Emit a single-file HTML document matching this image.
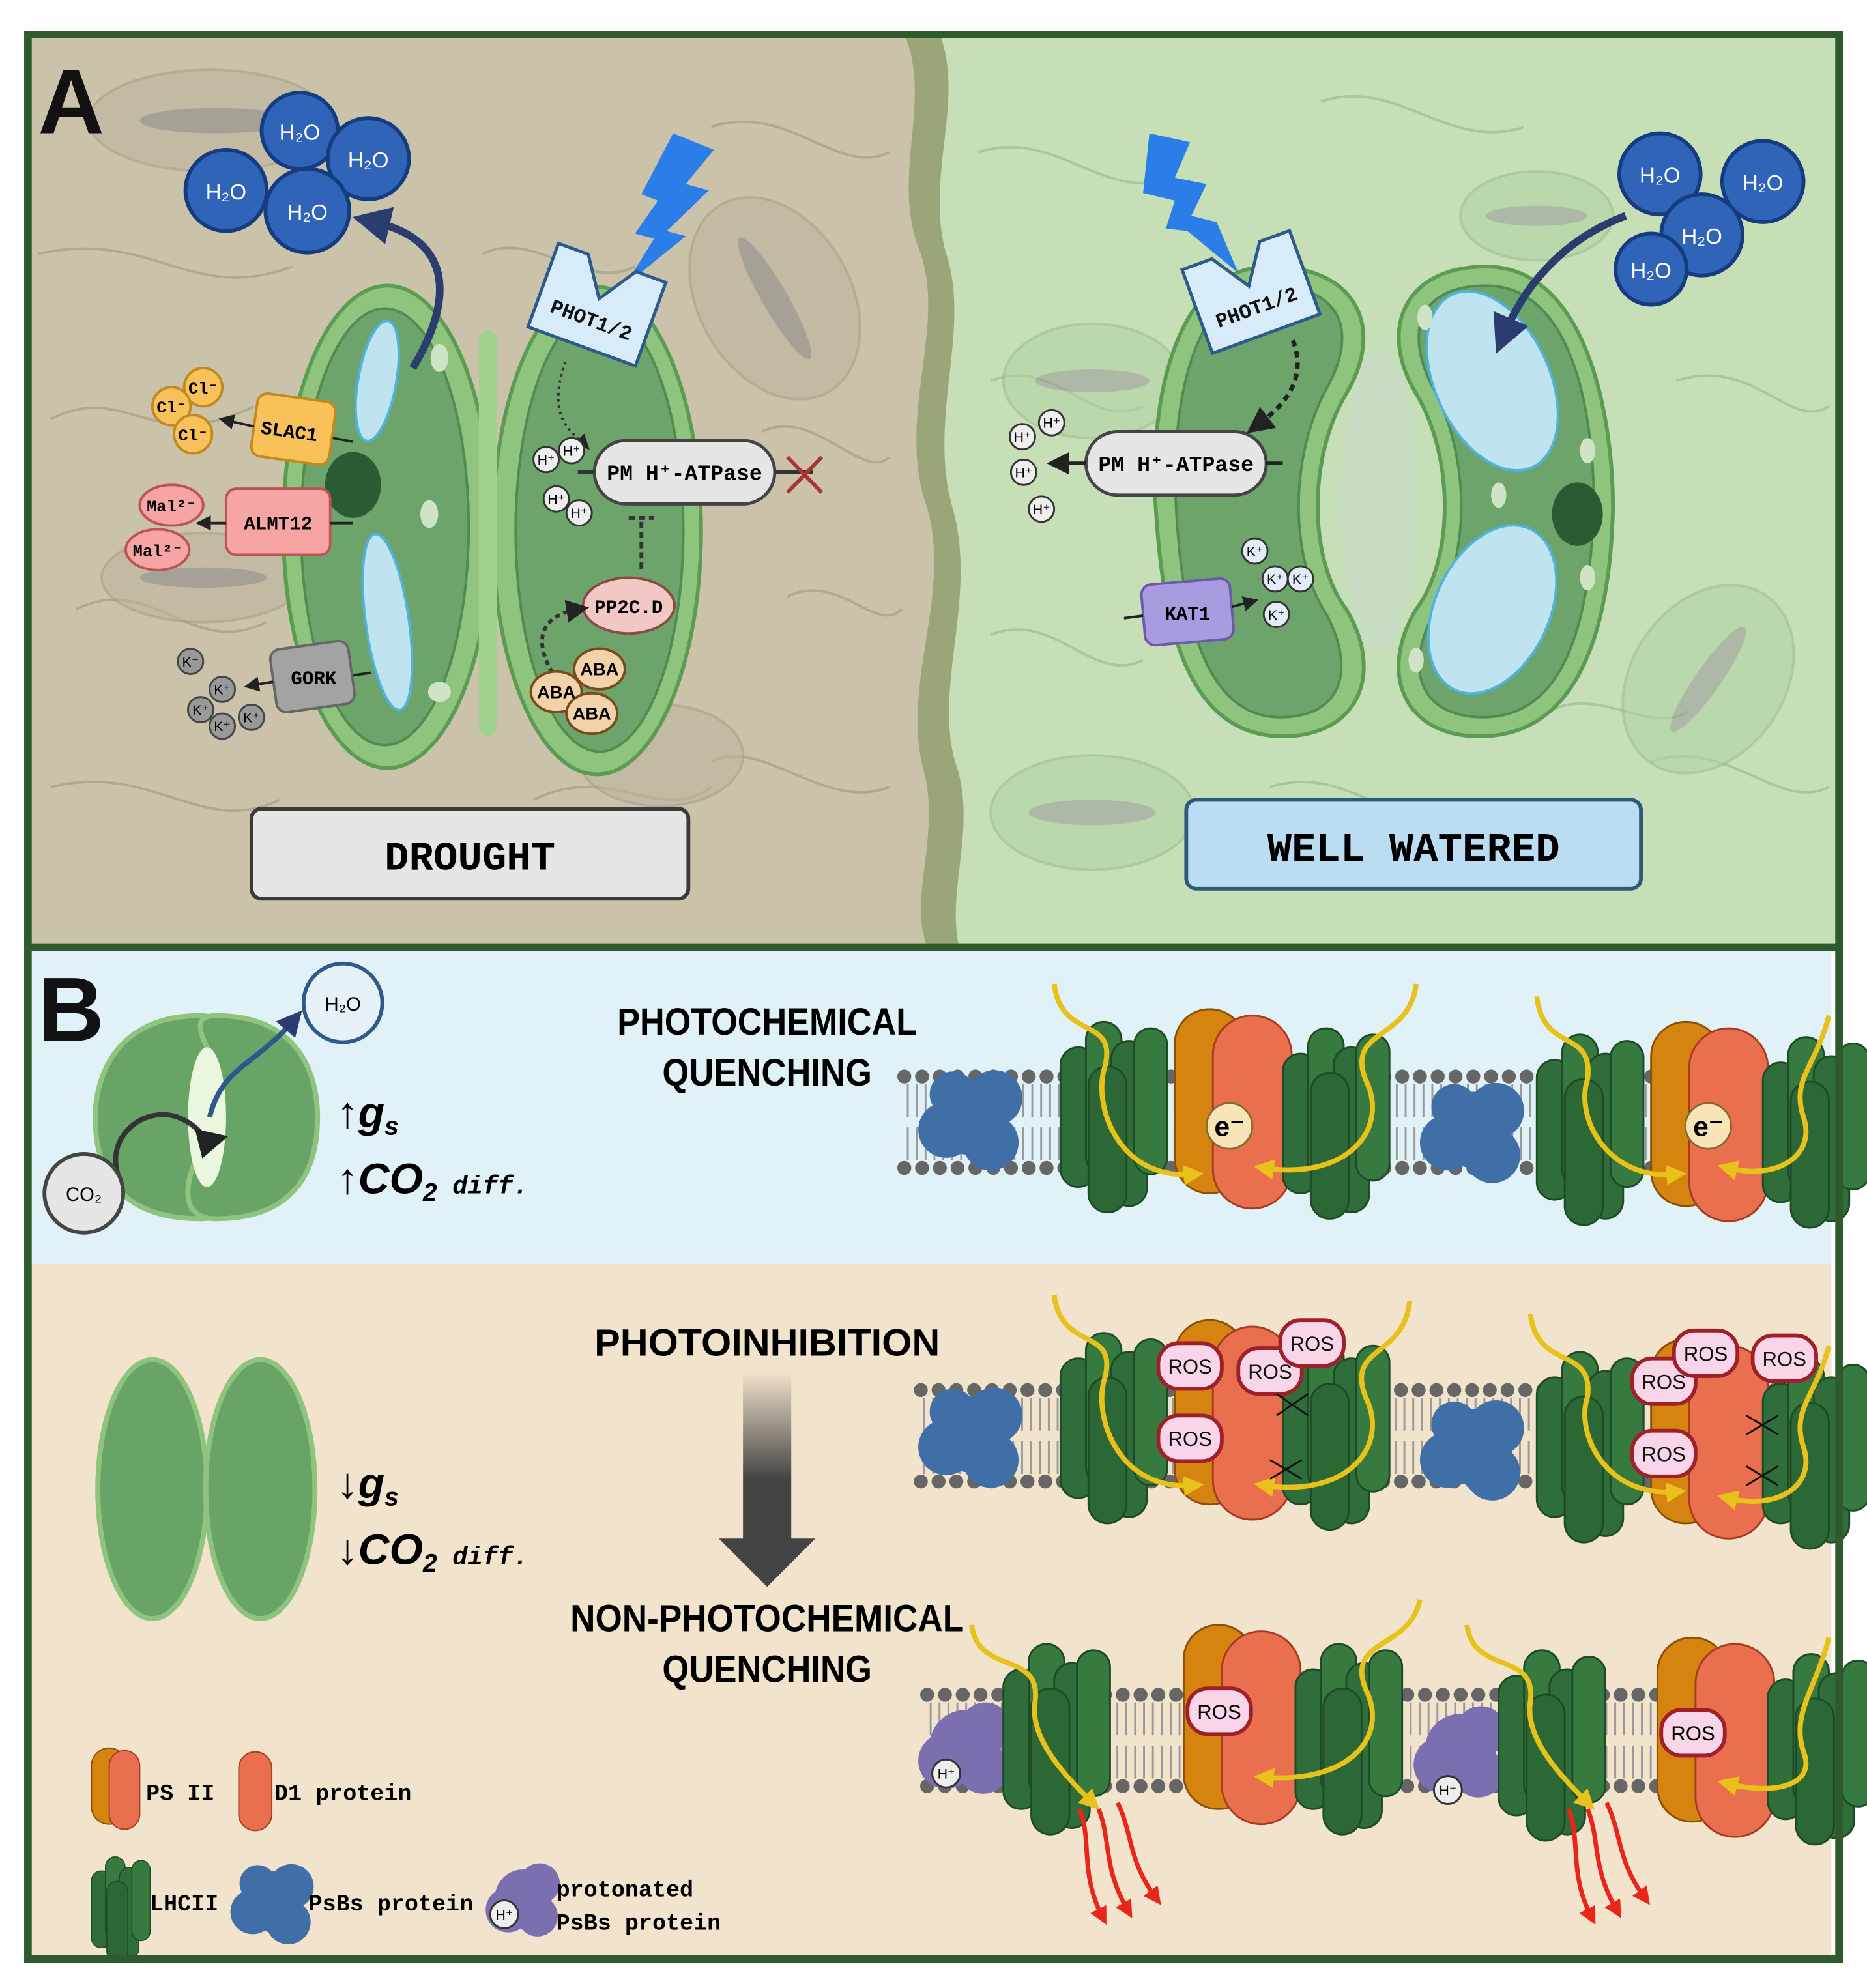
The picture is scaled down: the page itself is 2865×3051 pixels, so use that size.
<!DOCTYPE html>
<html><head><meta charset="utf-8"><style>
html,body{margin:0;padding:0;background:#fff;}
svg{display:block;}
text{font-family:"Liberation Sans",sans-serif;}
.m,.m text{font-family:"Liberation Mono",monospace;font-weight:bold;}
</style></head><body>
<svg width="2865" height="3051" viewBox="0 0 1470 1566" preserveAspectRatio="none" xmlns="http://www.w3.org/2000/svg">
<defs>
<g id="lhc">
 <rect x="0" y="25" width="28" height="110" rx="14" fill="#2f6e3a" stroke="#1e4a26" stroke-width="1.5"/>
 <rect x="20" y="5" width="28" height="120" rx="14" fill="#367a40" stroke="#1e4a26" stroke-width="1.5"/>
 <rect x="40" y="20" width="28" height="130" rx="14" fill="#2f6e3a" stroke="#1e4a26" stroke-width="1.5"/>
 <rect x="58" y="10" width="26" height="115" rx="13" fill="#367a40" stroke="#1e4a26" stroke-width="1.5"/>
 <rect x="22" y="40" width="30" height="115" rx="15" fill="#2c6836" stroke="#1e4a26" stroke-width="1.5"/>
</g>
<g id="ps2">
 <rect x="0" y="0" width="55" height="145" rx="27" fill="#d4840f" stroke="#8a4f08" stroke-width="1.5"/>
 <rect x="30" y="5" width="62" height="152" rx="31" fill="#e96f4e" stroke="#a53c22" stroke-width="1.5"/>
</g>
<g id="psbs">
 <circle cx="0" cy="0" r="30" fill="#3f6fa6"/><circle cx="-20" cy="10" r="22" fill="#3f6fa6"/><circle cx="18" cy="-15" r="22" fill="#3f6fa6"/><circle cx="15" cy="20" r="22" fill="#3f6fa6"/><circle cx="-15" cy="-18" r="18" fill="#3f6fa6"/>
</g>
<g id="ppsbs">
 <circle cx="0" cy="0" r="28" fill="#7b6fb0"/><circle cx="-15" cy="12" r="22" fill="#7b6fb0"/><circle cx="16" cy="-14" r="20" fill="#7b6fb0"/><circle cx="14" cy="18" r="20" fill="#7b6fb0"/>
</g>
<g id="mem">
 <line x1="0" y1="5" x2="730" y2="5" stroke="#666" stroke-width="11" stroke-linecap="round" stroke-dasharray="0 14"/>
 <line x1="0" y1="77" x2="730" y2="77" stroke="#666" stroke-width="11" stroke-linecap="round" stroke-dasharray="0 14"/>
 <line x1="0" y1="24" x2="730" y2="24" stroke="#999" stroke-width="26" stroke-dasharray="1.5 5.5" stroke-dashoffset="-2"/>
 <line x1="0" y1="58" x2="730" y2="58" stroke="#999" stroke-width="26" stroke-dasharray="1.5 5.5" stroke-dashoffset="-2"/>
</g>
<marker id="ah" markerWidth="6" markerHeight="6" refX="3" refY="3" orient="auto"><path d="M0,0 L6,3 L0,6z" fill="#222"/></marker>
<marker id="ahb" markerWidth="5" markerHeight="5" refX="2" refY="2.5" orient="auto"><path d="M0,0 L5,2.5 L0,5z" fill="#2b3d6e"/></marker>
<marker id="ahy" markerWidth="4" markerHeight="4" refX="2" refY="2" orient="auto"><path d="M0,0 L4,2 L0,4z" fill="#e8c21a"/></marker>
<marker id="ahr" markerWidth="4" markerHeight="4" refX="2" refY="2" orient="auto"><path d="M0,0 L4,2 L0,4z" fill="#e8261a"/></marker>
<linearGradient id="gr" x1="0" y1="0" x2="0" y2="1"><stop offset="0" stop-color="#444" stop-opacity="0"/><stop offset="0.5" stop-color="#444"/></linearGradient>
</defs>

<!-- Panel A backgrounds -->
<rect x="22" y="27" width="1426" height="718" fill="#cbc2aa"/>
<rect x="740" y="27" width="708" height="718" fill="#c6dfb6"/>
<path d="M712,27 C735,80 700,140 725,200 C745,260 705,330 730,400 C750,470 708,540 728,610 C740,660 715,710 730,745 L755,745 C745,700 770,650 752,600 C735,540 770,470 750,400 C730,330 765,260 745,200 C728,140 760,80 740,27z" fill="#9aa679"/>
<g fill="none" stroke="#b1a88f" stroke-width="2">
<path d="M30,200 C120,180 150,240 230,210 M40,330 C100,300 120,360 200,320 M60,480 C120,450 150,520 210,490 M40,620 C120,600 160,660 220,630 M560,100 C620,80 660,140 700,120 M560,600 C600,580 650,640 700,620 M380,200 C420,180 460,230 500,210 M420,630 C480,600 520,650 560,620 M600,340 C640,320 680,380 700,360 M620,470 C660,450 690,500 710,480"/>
</g>
<g fill="none" stroke="#a8c89a" stroke-width="2">
<path d="M770,120 C830,100 870,160 920,140 M1040,80 C1100,60 1140,120 1200,100 M780,300 C830,280 860,340 900,320 M1320,300 C1380,280 1410,340 1440,320 M780,500 C830,480 860,540 900,520 M1300,600 C1360,580 1400,640 1440,620 M1000,620 C1060,600 1100,660 1150,640 M1220,560 C1260,540 1300,580 1330,560"/>
</g>
<g opacity="0.55">
<ellipse cx="165" cy="95" rx="95" ry="40" fill="#bdb49d" stroke="#a59c84" stroke-width="2"/><ellipse cx="170" cy="95" rx="60" ry="10" fill="#888"/>
<ellipse cx="160" cy="455" rx="80" ry="35" fill="#bdb49d" stroke="#a59c84" stroke-width="2"/><ellipse cx="160" cy="455" rx="50" ry="8" fill="#888"/>
<ellipse cx="610" cy="235" rx="60" ry="85" fill="#bdb49d" stroke="#a59c84" stroke-width="2" transform="rotate(-30 610 235)"/><ellipse cx="610" cy="235" rx="10" ry="55" fill="#888" transform="rotate(-30 610 235)"/>
<ellipse cx="520" cy="595" rx="65" ry="40" fill="#bdb49d" stroke="#a59c84" stroke-width="2"/>
<ellipse cx="1210" cy="170" rx="60" ry="35" fill="#b2d1a5" stroke="#98b88a" stroke-width="2"/><ellipse cx="1210" cy="170" rx="40" ry="8" fill="#999"/>
<ellipse cx="860" cy="300" rx="70" ry="45" fill="#b2d1a5" stroke="#98b88a" stroke-width="2"/><ellipse cx="860" cy="300" rx="45" ry="9" fill="#999"/>
<ellipse cx="860" cy="640" rx="80" ry="45" fill="#b2d1a5" stroke="#98b88a" stroke-width="2"/><ellipse cx="860" cy="640" rx="50" ry="10" fill="#999"/>
<ellipse cx="1345" cy="535" rx="60" ry="80" fill="#b2d1a5" stroke="#98b88a" stroke-width="2" transform="rotate(35 1345 535)"/><ellipse cx="1345" cy="535" rx="10" ry="50" fill="#999" transform="rotate(35 1345 535)"/>
</g>

<!-- Drought stomata -->
<ellipse cx="305" cy="415" rx="82" ry="190" fill="#8fc47e" stroke="#5c9c52" stroke-width="3"/>
<ellipse cx="303" cy="415" rx="66" ry="172" fill="#6ca46b" stroke="#4f8c4f" stroke-width="2"/>
<ellipse cx="470" cy="418" rx="82" ry="192" fill="#8fc47e" stroke="#5c9c52" stroke-width="3"/>
<ellipse cx="472" cy="418" rx="66" ry="174" fill="#6ca46b" stroke="#4f8c4f" stroke-width="2"/>
<rect x="377" y="260" width="14" height="320" rx="7" fill="#a2d08f"/>
<ellipse cx="297" cy="300" rx="15" ry="48" fill="#bfe3ef" stroke="#4fb3e0" stroke-width="2" transform="rotate(10 297 300)"/>
<ellipse cx="305" cy="490" rx="17" ry="70" fill="#bfe3ef" stroke="#4fb3e0" stroke-width="2" transform="rotate(-8 305 490)"/>
<ellipse cx="278" cy="382" rx="22" ry="26" fill="#2a5b33"/>
<ellipse cx="346" cy="282" rx="7" ry="11" fill="#cfe3c5"/><ellipse cx="338" cy="405" rx="7" ry="11" fill="#cfe3c5"/><ellipse cx="346" cy="545" rx="9" ry="8" fill="#cfe3c5"/>
<path d="M325,290 C355,240 360,190 295,175" fill="none" stroke="#2b3d6e" stroke-width="6" marker-end="url(#ahb)"/>
<g fill="#2f64b8" stroke="#163c80" stroke-width="3">
<circle cx="236" cy="103" r="30"/><circle cx="290" cy="125" r="32"/><circle cx="178" cy="150" r="32"/><circle cx="242" cy="166" r="33"/>
</g>
<g fill="#fff" font-size="17" text-anchor="middle">
<text x="236" y="110">H₂O</text><text x="290" y="132">H₂O</text><text x="178" y="157">H₂O</text><text x="242" y="173">H₂O</text>
</g>
<!-- lightning left: top-right to bottom-left -->
<path d="M530,105 L562,118 L540,145 L558,150 L525,182 L540,186 L492,225 L515,188 L500,184 L518,158 L505,153z" fill="#2b7de8"/>
<g transform="rotate(20 470 240)"><path d="M425,205 L450,205 L470,235 L490,205 L515,205 L515,275 L425,275z" fill="#d8ebf8" stroke="#2d5a8a" stroke-width="2.5"/><text x="470" y="258" font-size="16" class="m" text-anchor="middle" fill="#111">PHOT1/2</text></g>
<path d="M445,285 C430,330 450,340 460,350" fill="none" stroke="#333" stroke-width="2" stroke-dasharray="2 3" marker-end="url(#ah)"/>
<rect x="468" y="347" width="142" height="50" rx="25" fill="#e6e6e6" stroke="#444" stroke-width="2.5"/>
<text x="539" y="378" font-size="17" class="m" text-anchor="middle">PM H⁺-ATPase</text>
<line x1="610" y1="372" x2="640" y2="372" stroke="#333" stroke-width="3"/>
<path d="M620,360 L647,388 M647,360 L620,388" stroke="#a33" stroke-width="3"/>
<line x1="468" y1="372" x2="455" y2="372" stroke="#333" stroke-width="3"/>
<g fill="#eee" stroke="#333" stroke-width="1.5"><circle cx="430" cy="362" r="10"/><circle cx="450" cy="355" r="10"/><circle cx="438" cy="393" r="10"/><circle cx="456" cy="404" r="10"/></g>
<g font-size="11" text-anchor="middle"><text x="430" y="366">H⁺</text><text x="450" y="359">H⁺</text><text x="438" y="397">H⁺</text><text x="456" y="408">H⁺</text></g>
<path d="M505,448 L505,408 M495,408 L515,408" stroke="#333" stroke-width="3" stroke-dasharray="5 3"/>
<ellipse cx="495" cy="477" rx="36" ry="22" fill="#f1c8c4" stroke="#8a4a45" stroke-width="2"/>
<text x="495" y="483" font-size="15" class="m" text-anchor="middle">PP2C.D</text>
<path d="M435,530 C420,505 425,485 455,480" fill="none" stroke="#333" stroke-width="3" stroke-dasharray="4 3" marker-end="url(#ah)"/>
<g fill="#f2d2aa" stroke="#7a4a1e" stroke-width="2"><ellipse cx="472" cy="527" rx="20" ry="16"/><ellipse cx="438" cy="545" rx="20" ry="16"/><ellipse cx="466" cy="562" rx="20" ry="16"/></g>
<g font-size="14" text-anchor="middle" font-weight="bold"><text x="472" y="532">ABA</text><text x="438" y="550">ABA</text><text x="466" y="567">ABA</text></g>
<rect x="200" y="313" width="62" height="50" rx="8" fill="#f8c15a" stroke="#c08a20" stroke-width="2" transform="rotate(8 231 338)"/>
<text x="228" y="345" font-size="15" class="m" text-anchor="middle" transform="rotate(8 231 338)">SLAC1</text>
<line x1="262" y1="345" x2="278" y2="348" stroke="#222" stroke-width="2"/>
<line x1="200" y1="336" x2="178" y2="331" stroke="#222" stroke-width="2" marker-end="url(#ah)"/>
<g fill="#f8c15a" stroke="#c08a20" stroke-width="2"><circle cx="160" cy="305" r="15"/><circle cx="135" cy="320" r="15"/><circle cx="152" cy="342" r="15"/></g>
<g font-size="13" class="m" text-anchor="middle"><text x="160" y="310">Cl⁻</text><text x="135" y="325">Cl⁻</text><text x="152" y="347">Cl⁻</text></g>
<rect x="178" y="385" width="82" height="52" rx="8" fill="#f6a4a4" stroke="#b55" stroke-width="2"/>
<text x="219" y="417" font-size="15" class="m" text-anchor="middle">ALMT12</text>
<line x1="260" y1="412" x2="278" y2="412" stroke="#222" stroke-width="2"/>
<line x1="178" y1="412" x2="160" y2="412" stroke="#222" stroke-width="2" marker-end="url(#ah)"/>
<g fill="#f6a4a4" stroke="#b55" stroke-width="2"><ellipse cx="135" cy="398" rx="25" ry="16"/><ellipse cx="124" cy="433" rx="25" ry="16"/></g>
<g font-size="13" class="m" text-anchor="middle"><text x="135" y="403">Mal²⁻</text><text x="124" y="438">Mal²⁻</text></g>
<rect x="215" y="508" width="62" height="50" rx="8" fill="#a3a3a3" stroke="#666" stroke-width="2" transform="rotate(-8 246 533)"/>
<text x="247" y="539" font-size="15" class="m" text-anchor="middle">GORK</text>
<line x1="278" y1="532" x2="292" y2="530" stroke="#222" stroke-width="2"/>
<line x1="215" y1="537" x2="198" y2="540" stroke="#222" stroke-width="2" marker-end="url(#ah)"/>
<g fill="#999" stroke="#444" stroke-width="1.5"><circle cx="150" cy="521" r="10"/><circle cx="175" cy="543" r="10"/><circle cx="158" cy="559" r="10"/><circle cx="175" cy="572" r="10"/><circle cx="198" cy="565" r="10"/></g>
<g font-size="11" text-anchor="middle"><text x="150" y="525">K⁺</text><text x="175" y="547">K⁺</text><text x="158" y="563">K⁺</text><text x="175" y="576">K⁺</text><text x="198" y="569">K⁺</text></g>
<rect x="198" y="637" width="344" height="71" rx="8" fill="#e6e6e6" stroke="#3a3a3a" stroke-width="3"/>
<text x="370" y="685" font-size="32" class="m" text-anchor="middle">DROUGHT</text>

<!-- Well watered stomata -->
<path d="M1000,210 C920,210 905,330 910,400 C915,480 930,580 1010,580 C1070,580 1090,530 1060,480 C1030,440 1030,360 1060,310 C1090,260 1070,210 1000,210z" fill="#8fc47e" stroke="#5c9c52" stroke-width="3"/>
<path d="M1000,225 C935,225 922,330 926,400 C930,475 945,565 1008,565 C1055,565 1068,530 1045,485 C1015,440 1015,360 1045,305 C1070,260 1055,225 1000,225z" fill="#6ca46b" stroke="#4f8c4f" stroke-width="2"/>
<path d="M1170,210 C1250,210 1270,330 1270,400 C1268,480 1250,580 1165,580 C1105,580 1085,530 1115,480 C1145,440 1145,360 1115,310 C1085,260 1105,210 1170,210z" fill="#8fc47e" stroke="#5c9c52" stroke-width="3"/>
<path d="M1170,225 C1240,225 1255,330 1255,400 C1252,475 1238,565 1168,565 C1120,565 1105,530 1128,485 C1158,440 1158,360 1128,305 C1105,260 1118,225 1170,225z" fill="#6ca46b" stroke="#4f8c4f" stroke-width="2"/>
<ellipse cx="1086" cy="395" rx="30" ry="120" fill="#c9dcc4"/>
<ellipse cx="1175" cy="300" rx="45" ry="75" fill="#bfe3ef" stroke="#4fb3e0" stroke-width="2" transform="rotate(-25 1175 300)"/>
<ellipse cx="1175" cy="480" rx="45" ry="70" fill="#bfe3ef" stroke="#4fb3e0" stroke-width="2" transform="rotate(25 1175 480)"/>
<ellipse cx="1242" cy="405" rx="20" ry="25" fill="#2a5b33"/>
<ellipse cx="1122" cy="250" rx="6" ry="10" fill="#cfe3c5"/><ellipse cx="1250" cy="355" rx="6" ry="10" fill="#cfe3c5"/><ellipse cx="1250" cy="455" rx="6" ry="10" fill="#cfe3c5"/><ellipse cx="1115" cy="520" rx="6" ry="10" fill="#cfe3c5"/><ellipse cx="1180" cy="390" rx="6" ry="10" fill="#cfe3c5"/>
<path d="M1280,170 C1240,185 1205,215 1185,262" fill="none" stroke="#2b3d6e" stroke-width="6" marker-end="url(#ahb)"/>
<g fill="#2f64b8" stroke="#163c80" stroke-width="3">
<circle cx="1307" cy="137" r="32"/><circle cx="1388" cy="143" r="32"/><circle cx="1340" cy="185" r="32"/><circle cx="1300" cy="212" r="28"/>
</g>
<g fill="#fff" font-size="17" text-anchor="middle">
<text x="1307" y="144">H₂O</text><text x="1388" y="150">H₂O</text><text x="1340" y="192">H₂O</text><text x="1300" y="219">H₂O</text>
</g>
<!-- lightning right: top-left to bottom-right -->
<path d="M905,105 L937,112 L925,140 L950,145 L938,170 L958,175 L975,215 L935,182 L918,180 L925,158 L900,152z" fill="#2b7de8"/>
<g transform="rotate(-20 985 230)"><path d="M940,195 L965,195 L985,225 L1005,195 L1030,195 L1030,265 L940,265z" fill="#d8ebf8" stroke="#2d5a8a" stroke-width="2.5"/><text x="985" y="248" font-size="16" class="m" text-anchor="middle" fill="#111">PHOT1/2</text></g>
<path d="M1018,268 C1030,300 1010,320 990,335" fill="none" stroke="#222" stroke-width="3.5" stroke-dasharray="5 4" marker-end="url(#ah)"/>
<rect x="855" y="340" width="142" height="50" rx="25" fill="#e6e6e6" stroke="#444" stroke-width="2.5"/>
<text x="926" y="371" font-size="17" class="m" text-anchor="middle">PM H⁺-ATPase</text>
<line x1="997" y1="365" x2="1010" y2="365" stroke="#222" stroke-width="3"/>
<line x1="855" y1="365" x2="833" y2="365" stroke="#222" stroke-width="3" marker-end="url(#ah)"/>
<g fill="#eee" stroke="#333" stroke-width="1.5"><circle cx="828" cy="333" r="10"/><circle cx="805" cy="344" r="10"/><circle cx="806" cy="372" r="10"/><circle cx="820" cy="401" r="10"/></g>
<g font-size="11" text-anchor="middle"><text x="828" y="337">H⁺</text><text x="805" y="348">H⁺</text><text x="806" y="376">H⁺</text><text x="820" y="405">H⁺</text></g>
<rect x="900" y="458" width="70" height="48" rx="8" fill="#a99be0" stroke="#6a5aa8" stroke-width="2" transform="rotate(-5 935 482)"/>
<text x="935" y="488" font-size="15" class="m" text-anchor="middle">KAT1</text>
<line x1="885" y1="487" x2="900" y2="485" stroke="#222" stroke-width="2"/>
<line x1="970" y1="478" x2="985" y2="474" stroke="#222" stroke-width="2" marker-end="url(#ah)"/>
<g fill="#e4ecf8" stroke="#333" stroke-width="1.5"><circle cx="988" cy="434" r="10"/><circle cx="1004" cy="456" r="10"/><circle cx="1024" cy="456" r="10"/><circle cx="1005" cy="484" r="10"/></g>
<g font-size="11" text-anchor="middle"><text x="988" y="438">K⁺</text><text x="1004" y="460">K⁺</text><text x="1024" y="460">K⁺</text><text x="1005" y="488">K⁺</text></g>
<rect x="934" y="630" width="358" height="70" rx="8" fill="#bcdcf2" stroke="#2d5a7a" stroke-width="3"/>
<text x="1113" y="678" font-size="32" class="m" text-anchor="middle">WELL WATERED</text>
<text x="30" y="105" font-size="72" font-weight="bold" fill="#111">A</text>

<!-- Panel B backgrounds -->
<rect x="22" y="748" width="1420" height="248" fill="#e0f2f7"/>
<rect x="22" y="996" width="1420" height="547" fill="#f2e3cc"/>
<text x="30" y="820" font-size="72" font-weight="bold" fill="#111">B</text>

<path d="M158,800 C90,800 75,850 75,880 C75,930 100,960 158,960 C185,960 185,935 170,905 C150,870 150,850 165,825 C175,805 170,800 158,800z" fill="#68a466" stroke="#8fc47e" stroke-width="4"/>
<path d="M170,800 C238,800 250,850 250,880 C250,930 225,960 170,960 C143,960 143,935 158,905 C178,870 178,850 163,825 C153,805 158,800 170,800z" fill="#68a466" stroke="#8fc47e" stroke-width="4"/>
<ellipse cx="163" cy="880" rx="15" ry="55" fill="#eaf6dd"/>
<path d="M95,930 C80,900 110,870 140,880 C160,888 160,900 168,898" fill="none" stroke="#333" stroke-width="4" marker-end="url(#ah)"/>
<path d="M165,880 C175,840 200,840 230,805" fill="none" stroke="#2b5a8a" stroke-width="4" marker-end="url(#ahb)"/>
<circle cx="66" cy="940" r="31" fill="#e6e6e6" stroke="#444" stroke-width="3"/><text x="66" y="946" font-size="15" text-anchor="middle">CO₂</text>
<circle cx="270" cy="790" r="31" fill="#e6f2f8" stroke="#2d5a8a" stroke-width="3"/><text x="270" y="796" font-size="15" text-anchor="middle">H₂O</text>
<text x="265" y="888" font-size="34" font-style="italic" font-weight="bold">↑g<tspan font-size="20" dy="6">s</tspan></text>
<text x="265" y="940" font-size="34" font-style="italic" font-weight="bold">↑CO<tspan font-size="20" dy="6">2</tspan><tspan class="m" font-size="20" dy="-6" font-family="Liberation Mono"> diff.</tspan></text>
<ellipse cx="120" cy="1173" rx="43" ry="102" fill="#68a466" stroke="#8fc47e" stroke-width="4"/>
<ellipse cx="205" cy="1173" rx="43" ry="102" fill="#68a466" stroke="#8fc47e" stroke-width="4"/>
<text x="265" y="1180" font-size="34" font-style="italic" font-weight="bold">↓g<tspan font-size="20" dy="6">s</tspan></text>
<text x="265" y="1232" font-size="34" font-style="italic" font-weight="bold">↓CO<tspan font-size="20" dy="6">2</tspan><tspan font-size="20" dy="-6" font-family="Liberation Mono"> diff.</tspan></text>

<g font-size="30" font-weight="bold" text-anchor="middle">
<text x="604" y="815" textLength="236" lengthAdjust="spacingAndGlyphs">PHOTOCHEMICAL</text><text x="604" y="855" textLength="165" lengthAdjust="spacingAndGlyphs">QUENCHING</text>
<text x="604" y="1068" textLength="272" lengthAdjust="spacingAndGlyphs">PHOTOINHIBITION</text>
<text x="604" y="1285" textLength="310" lengthAdjust="spacingAndGlyphs">NON-PHOTOCHEMICAL</text><text x="604" y="1325" textLength="165" lengthAdjust="spacingAndGlyphs">QUENCHING</text>
</g>
<path d="M585,1080 L623,1080 L623,1212 L642,1212 L604,1250 L566,1212 L585,1212z" fill="url(#gr)"/>

<!-- membrane row 1 -->
<use href="#mem" x="712" y="843"/>
<use href="#psbs" x="765" y="880"/><use href="#psbs" x="1160" y="890"/>
<use href="#lhc" x="835" y="800"/><use href="#ps2" x="925" y="795"/><use href="#lhc" x="1010" y="805"/>
<use href="#lhc" x="1210" y="810"/><use href="#ps2" x="1300" y="805"/><use href="#lhc" x="1388" y="812"/>
<circle cx="968" cy="887" r="18" fill="#f7e4b8" stroke="#8a6a2a" stroke-width="1.5"/><text x="968" y="895" font-size="22" font-weight="bold" text-anchor="middle">e⁻</text>
<circle cx="1345" cy="887" r="18" fill="#f7e4b8" stroke="#8a6a2a" stroke-width="1.5"/><text x="1345" y="895" font-size="22" font-weight="bold" text-anchor="middle">e⁻</text>
<g fill="none" stroke="#e8c21a" stroke-width="4">
<path d="M830,775 C835,820 880,800 870,840 C860,870 880,930 940,925" marker-end="url(#ahy)"/>
<path d="M1115,775 C1110,820 1060,810 1075,850 C1095,890 1060,930 995,920" marker-end="url(#ahy)"/>
<path d="M1210,785 C1215,830 1255,810 1250,850 C1240,880 1265,930 1320,925" marker-end="url(#ahy)"/>
<path d="M1440,800 C1430,840 1410,850 1420,880 C1430,910 1400,930 1360,920" marker-end="url(#ahy)"/>
</g>
<!-- row 2 -->
<use href="#mem" x="725" y="1090"/>
<use href="#psbs" x="765" y="1130"/><use href="#psbs" x="1160" y="1140"/>
<use href="#lhc" x="835" y="1045"/><use href="#ps2" x="925" y="1040"/><use href="#lhc" x="1010" y="1050"/>
<use href="#lhc" x="1210" y="1060"/><use href="#ps2" x="1300" y="1055"/><use href="#lhc" x="1388" y="1065"/>
<g fill="none" stroke="#e8c21a" stroke-width="4">
<path d="M830,1020 C835,1065 880,1045 870,1085 C860,1115 880,1175 940,1170" marker-end="url(#ahy)"/>
<path d="M1110,1025 C1105,1070 1060,1060 1075,1100 C1095,1140 1060,1180 995,1170" marker-end="url(#ahy)"/>
<path d="M1205,1035 C1210,1080 1255,1060 1250,1100 C1240,1130 1265,1180 1320,1175" marker-end="url(#ahy)"/>
<path d="M1440,1060 C1430,1100 1410,1110 1420,1140 C1430,1170 1400,1190 1360,1180" marker-end="url(#ahy)"/>
</g>
<g fill="#f9d5ea" stroke="#a0202a" stroke-width="3">
<rect x="912" y="1058" width="50" height="36" rx="16"/><rect x="975" y="1062" width="50" height="36" rx="16"/><rect x="1008" y="1040" width="50" height="36" rx="16"/><rect x="912" y="1115" width="50" height="36" rx="16"/>
<rect x="1285" y="1070" width="50" height="36" rx="16"/><rect x="1318" y="1048" width="50" height="36" rx="16"/><rect x="1380" y="1052" width="50" height="36" rx="16"/><rect x="1285" y="1127" width="50" height="36" rx="16"/>
</g>
<g font-size="16" text-anchor="middle" fill="#111">
<text x="937" y="1082">ROS</text><text x="1000" y="1086">ROS</text><text x="1033" y="1064">ROS</text><text x="937" y="1139">ROS</text>
<text x="1310" y="1094">ROS</text><text x="1343" y="1072">ROS</text><text x="1405" y="1076">ROS</text><text x="1310" y="1151">ROS</text>
</g>
<g stroke="#111" stroke-width="1.5" fill="none"><path d="M1005,1098 L1030,1115 M1005,1115 L1030,1098 M1000,1150 L1025,1165 M1000,1165 L1025,1150 M1375,1115 L1400,1130 M1375,1130 L1400,1115 M1375,1155 L1400,1170 M1375,1170 L1400,1155"/></g>
<!-- row 3 -->
<use href="#mem" x="730" y="1330"/>
<use href="#ppsbs" x="760" y="1375"/><use href="#ppsbs" x="1150" y="1378"/>
<circle cx="745" cy="1397" r="11" fill="#eee" stroke="#333" stroke-width="1.5"/><text x="745" y="1401" font-size="11" text-anchor="middle">H⁺</text>
<circle cx="1140" cy="1410" r="11" fill="#eee" stroke="#333" stroke-width="1.5"/><text x="1140" y="1414" font-size="11" text-anchor="middle">H⁺</text>
<use href="#lhc" x="790" y="1290"/><use href="#ps2" x="932" y="1280"/><use href="#lhc" x="1020" y="1290"/>
<use href="#lhc" x="1180" y="1295"/><use href="#ps2" x="1305" y="1290"/><use href="#lhc" x="1392" y="1298"/>
<g fill="#f9d5ea" stroke="#a0202a" stroke-width="3"><rect x="935" y="1330" width="50" height="36" rx="16"/><rect x="1308" y="1347" width="50" height="36" rx="16"/></g>
<g font-size="16" text-anchor="middle"><text x="960" y="1354">ROS</text><text x="1333" y="1371">ROS</text></g>
<g fill="none" stroke="#e8c21a" stroke-width="4">
<path d="M765,1280 C770,1320 820,1300 815,1340 C810,1370 840,1400 860,1420" marker-end="url(#ahy)"/>
<path d="M1118,1260 C1110,1300 1060,1290 1075,1330 C1095,1370 1060,1405 995,1400" marker-end="url(#ahy)"/>
<path d="M1155,1280 C1160,1320 1210,1300 1205,1340 C1200,1370 1230,1400 1250,1420" marker-end="url(#ahy)"/>
<path d="M1440,1290 C1430,1330 1410,1350 1420,1380 C1430,1405 1400,1415 1360,1405" marker-end="url(#ahy)"/>
</g>
<g fill="none" stroke="#e8261a" stroke-width="3.5">
<path d="M850,1425 C860,1450 850,1475 868,1510" marker-end="url(#ahr)"/><path d="M865,1425 C875,1450 868,1470 888,1505" marker-end="url(#ahr)"/><path d="M880,1420 C892,1445 888,1465 910,1495" marker-end="url(#ahr)"/>
<path d="M1235,1425 C1245,1450 1235,1475 1253,1510" marker-end="url(#ahr)"/><path d="M1250,1425 C1260,1450 1253,1470 1273,1505" marker-end="url(#ahr)"/><path d="M1265,1420 C1277,1445 1273,1465 1295,1495" marker-end="url(#ahr)"/>
</g>

<!-- legend -->
<rect x="72" y="1377" width="28" height="60" rx="14" fill="#d4840f" stroke="#8a4f08"/><rect x="86" y="1379" width="24" height="62" rx="12" fill="#e96f4e" stroke="#a53c22"/>
<text x="115" y="1418" class="m" font-size="18">PS II</text>
<rect x="188" y="1380" width="26" height="62" rx="13" fill="#e96f4e" stroke="#a53c22"/>
<text x="216" y="1418" class="m" font-size="18">D1 protein</text>
<g transform="translate(72,1460) scale(0.55)"><use href="#lhc"/></g>
<text x="118" y="1505" class="m" font-size="18">LHCII</text>
<g transform="translate(215,1498) scale(0.8)"><use href="#psbs"/></g>
<text x="243" y="1505" class="m" font-size="18">PsBs protein</text>
<g transform="translate(412,1495) scale(0.8)"><use href="#ppsbs"/></g>
<circle cx="397" cy="1508" r="11" fill="#eee" stroke="#333" stroke-width="1.5"/><text x="397" y="1512" font-size="11" text-anchor="middle">H⁺</text>
<text x="438" y="1494" class="m" font-size="18">protonated</text><text x="438" y="1520" class="m" font-size="18">PsBs protein</text>

<rect x="22" y="27" width="1426" height="1516" fill="none" stroke="#2e5a2e" stroke-width="6"/>
<line x1="22" y1="746" x2="1448" y2="746" stroke="#2e5a2e" stroke-width="6"/>
</svg>
</body></html>
